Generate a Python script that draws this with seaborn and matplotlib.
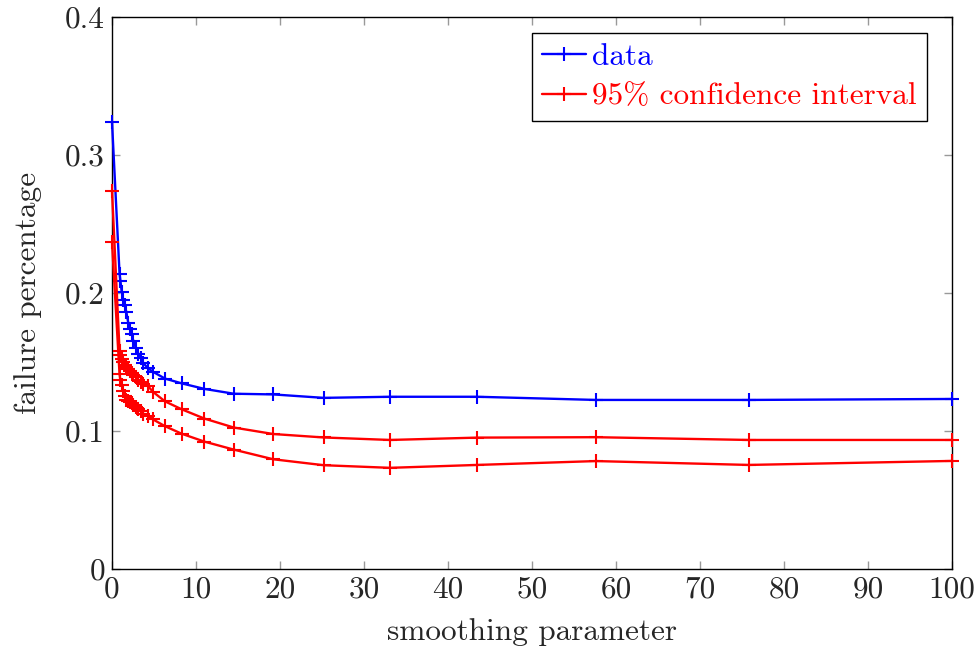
import matplotlib
matplotlib.use("Agg")
import matplotlib.pyplot as plt
import seaborn as sns
import pandas as pd

# valores
smoothing = [0, 0.9, 1.0, 1.15, 1.35, 1.5, 1.7, 1.95, 2.15, 2.35, 2.55, 2.85, 3.15, 3.45,
             3.75, 4.3, 4.85, 6.3, 8.3, 11.0, 14.5, 19.2, 25.2, 33.1, 43.5, 57.6, 75.8, 100]
data = [0.324, 0.214, 0.209, 0.201, 0.195, 0.191, 0.1865, 0.178, 0.174, 0.170, 0.165, 0.160,
        0.156, 0.153, 0.149, 0.1455, 0.143, 0.138, 0.1345, 0.1305, 0.127, 0.1265, 0.124,
        0.1248, 0.1248, 0.1225, 0.1225, 0.1232]
ci_upper = [0.274, 0.158, 0.155, 0.152, 0.150, 0.148, 0.1465, 0.145, 0.1435, 0.142, 0.1405,
            0.139, 0.137, 0.1355, 0.134, 0.1325, 0.1285, 0.1215, 0.1157, 0.109, 0.1025,
            0.0978, 0.0953, 0.0935, 0.0952, 0.0955, 0.0935, 0.0935]
ci_lower = [0.237, 0.141, 0.137, 0.133, 0.129, 0.125, 0.1225, 0.122, 0.121, 0.120, 0.119,
            0.1175, 0.116, 0.1145, 0.1125, 0.111, 0.1085, 0.1035, 0.098, 0.0923, 0.0865,
            0.0795, 0.0752, 0.0733, 0.0754, 0.0782, 0.0754, 0.0783]
xticks = [0, 10, 20, 30, 40, 50, 60, 70, 80, 90, 100]
yticks = [0, 0.1, 0.2, 0.3, 0.4]
ytick_labels = ["0", "0.1", "0.2", "0.3", "0.4"]

df = pd.DataFrame({"x": smoothing, "data": data, "upper": ci_upper, "lower": ci_lower})

sns.set_style("ticks")
plt.rcParams["font.family"] = ["cmr10", "DejaVu Serif"]
plt.rcParams["mathtext.fontset"] = "cm"
plt.rcParams["axes.formatter.use_mathtext"] = True

fig = plt.figure(figsize=(9.79, 6.49), dpi=100)
ax = fig.add_axes([0.1144, 0.1233, 0.858, 0.8505])

estilo = dict(marker="+", markersize=10, markeredgewidth=1.5, linewidth=1.7, sort=False,
              estimator=None, clip_on=False, zorder=3)
sns.lineplot(data=df, x="x", y="data", color="blue", markeredgecolor="blue",
             label="data", ax=ax, **estilo)
sns.lineplot(data=df, x="x", y="upper", color="red", markeredgecolor="red",
             label="95% confidence interval", ax=ax, **estilo)
sns.lineplot(data=df, x="x", y="lower", color="red", markeredgecolor="red", ax=ax, **estilo)

ax.set_xlim(0, 100)
ax.set_ylim(0, 0.4)
ax.set_xticks(xticks)
ax.set_xticklabels([str(t) for t in xticks])
ax.set_yticks(yticks)
ax.set_yticklabels(ytick_labels)
ax.tick_params(direction="in", length=6, width=1, color="#999999", labelsize=22.5,
               top=True, right=True, pad=5)
for s in ax.spines.values():
    s.set_linewidth(1.0)
    s.set_color("black")
ax.set_xlabel("smoothing parameter", fontsize=22.5, labelpad=10)
ax.set_ylabel("failure percentage", fontsize=22.5, labelpad=17)

leg = ax.legend(loc="upper right", bbox_to_anchor=(0.97, 0.971), borderaxespad=0,
                fontsize=22.5, labelcolor="linecolor", fancybox=False, framealpha=1,
                edgecolor="black", handlelength=1.4, handletextpad=0.2,
                borderpad=0.33, labelspacing=0.36)
leg.get_frame().set_linewidth(1.0)
leg.set_zorder(5)

plt.savefig("out.png", dpi=100)
plt.close()
